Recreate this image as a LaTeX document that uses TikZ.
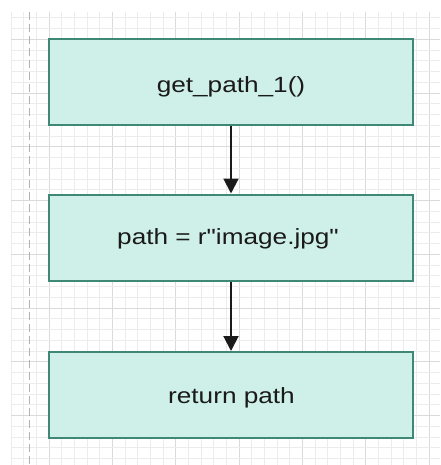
\documentclass[tikz,border=0pt]{standalone}
\usepackage{fontspec}
\setmainfont{Liberation Sans}[Ligatures=TeXOff]
\usetikzlibrary{arrows.meta}
\definecolor{gridminor}{RGB}{236,236,236}
\definecolor{gridmajor}{RGB}{218,218,218}
\definecolor{guide}{RGB}{178,178,178}
\definecolor{boxfill}{RGB}{207,240,232}
\definecolor{boxline}{RGB}{64,136,118}
\definecolor{ink}{RGB}{26,26,26}
\tikzset{
  stepbox/.style={draw=boxline, fill=boxfill, line width=2pt, rectangle,
    minimum width=364pt, minimum height=86pt, inner sep=0pt},
  lbl/.style={anchor=base, inner sep=0pt, text=ink,
    font=\fontsize{22}{26}\selectfont},
  flow/.style={draw=ink, line width=2pt, -{Triangle[length=15pt,width=15pt]}}
}
\newcommand{\wide}[1]{\scalebox{1.19}[1]{#1}}
\begin{document}
\begin{tikzpicture}[x=1pt,y=-1pt]
  \useasboundingbox (0,0) rectangle (440,465);
  % background grid
  \begin{scope}
    \clip (11,12) rectangle (440,465);
    \foreach \k in {0,...,34} {
      \pgfmathtruncatemacro{\m}{mod(\k+2,5)}
      \ifnum\m=0
        \draw[gridmajor, line width=1pt] ({11+12.667*\k},12) -- ({11+12.667*\k},465);
      \else
        \draw[gridminor, line width=1pt] ({11+12.667*\k},12) -- ({11+12.667*\k},465);
      \fi
    }
    \foreach \k in {-2,...,39} {
      \pgfmathtruncatemacro{\m}{mod(\k+10,5)}
      \ifnum\m=0
        \draw[gridmajor, line width=1pt] (11,{39.3+10.75*\k}) -- (440,{39.3+10.75*\k});
      \else
        \draw[gridminor, line width=1pt] (11,{39.3+10.75*\k}) -- (440,{39.3+10.75*\k});
      \fi
    }
  \end{scope}
  % page guide
  \draw[guide, line width=1pt, dash pattern=on 8pt off 4pt] (29.5,12) -- (29.5,465);

  % flow steps
  \node[stepbox] (b1) at (231,82) {};
  \node[stepbox] (b2) at (231,237.5) {};
  \node[stepbox] (b3) at (231,395) {};

  \node[lbl] (t1) at (231,93) {\wide{get\_path\_1()}};
  \node[lbl] (t2) at (228,244) {\wide{path = r"image.jpg"}};
  \node[lbl] (t3) at (231.5,403) {\wide{return path}};

  \draw[flow] (b1.south) -- (b2.north);
  \draw[flow] (b2.south) -- (b3.north);
\end{tikzpicture}
\end{document}
